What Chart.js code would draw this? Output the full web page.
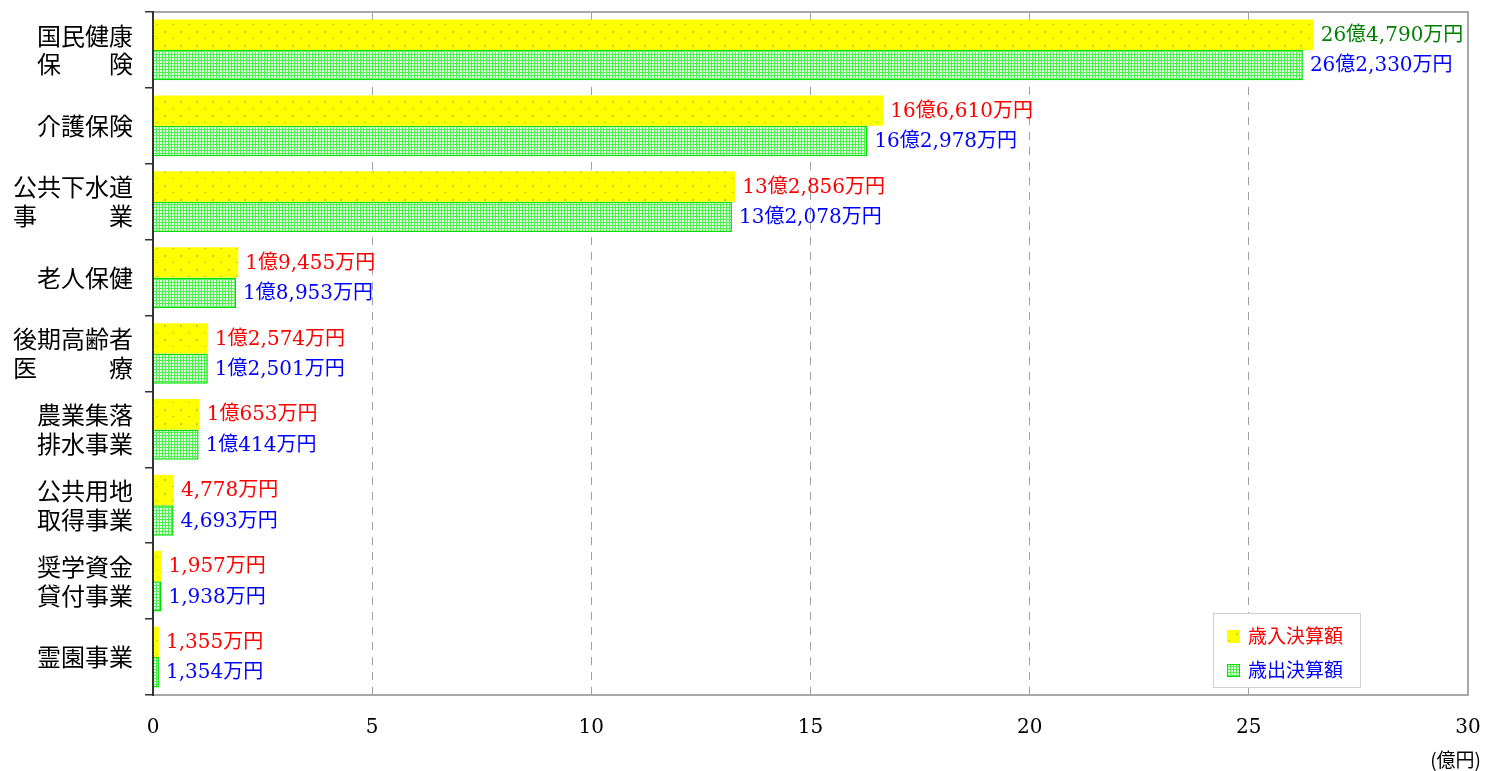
<!DOCTYPE html>
<html>
<head>
  <meta charset="UTF-8">
  <title>特別会計 決算額</title>
  <script src="https://cdn.jsdelivr.net/npm/chart.js"></script>
  <style>
    body { margin: 0; background: #fff; }
    #wrap { width: 1485px; height: 771px; position: relative; }
  </style>
</head>
<body>
  <div id="wrap"><canvas id="chart"></canvas></div>

  <script>
    const categories = [
      ["国民健康", "保　　険"],
      "介護保険",
      ["公共下水道", "事　　　業"],
      "老人保健",
      ["後期高齢者", "医　　　療"],
      ["農業集落", "排水事業"],
      ["公共用地", "取得事業"],
      ["奨学資金", "貸付事業"],
      "霊園事業"
    ];
    // 億円
    const revenue = [26.479, 16.661, 13.2856, 1.9455, 1.2574, 1.0653, 0.4778, 0.1957, 0.1355];
    const expenditure = [26.233, 16.2978, 13.2078, 1.8953, 1.2501, 1.0414, 0.4693, 0.1938, 0.1354];
    const revenueLabels = ["26億4,790万円", "16億6,610万円", "13億2,856万円", "1億9,455万円", "1億2,574万円", "1億653万円", "4,778万円", "1,957万円", "1,355万円"];
    const expenditureLabels = ["26億2,330万円", "16億2,978万円", "13億2,078万円", "1億8,953万円", "1億2,501万円", "1億414万円", "4,693万円", "1,938万円", "1,354万円"];
    const seriesNames = ["歳入決算額", "歳出決算額"];
    const xTicks = [0, 5, 10, 15, 20, 25, 30];

    const serif = "'DejaVu Serif', 'Noto Sans CJK JP', serif";
    const gothic = "'Noto Sans CJK JP', sans-serif";

    function yellowPattern() {
      const c = document.createElement("canvas");
      c.width = 16; c.height = 14;
      const g = c.getContext("2d");
      g.fillStyle = "#ffff00"; g.fillRect(0, 0, 16, 14);
      g.fillStyle = "#a8d830";
      g.fillRect(4, 3, 2, 2);
      g.fillRect(12, 10, 2, 1);
      return g.createPattern(c, "repeat");
    }
    function greenPattern() {
      const c = document.createElement("canvas");
      c.width = 3; c.height = 3;
      const g = c.getContext("2d");
      g.fillStyle = "#50f050"; g.fillRect(0, 0, 3, 3);
      g.fillStyle = "#e0ffe0"; g.fillRect(1, 1, 2, 2);
      return g.createPattern(c, "repeat");
    }

    // data labels next to the bars
    const barLabels = {
      id: "barLabels",
      afterDatasetsDraw(chart) {
        const ctx = chart.ctx;
        ctx.save();
        ctx.font = "20px " + serif;
        ctx.textBaseline = "middle";
        ctx.textAlign = "left";
        chart.data.datasets.forEach((ds, di) => {
          chart.getDatasetMeta(di).data.forEach((bar, i) => {
            let col = di === 0 ? "#ff0000" : "#0000ff";
            if (di === 0 && i === 0) col = "#008000";
            ctx.fillStyle = col;
            const txt = di === 0 ? revenueLabels[i] : expenditureLabels[i];
            ctx.fillText(txt, bar.x + 7, bar.y + 1);
          });
        });
        ctx.restore();
      }
    };

    // frame, legend box and unit label
    const extras = {
      id: "extras",
      beforeDatasetsDraw(chart) {
        const a = chart.chartArea, ctx = chart.ctx;
        ctx.save();
        ctx.strokeStyle = "#a8a8a8";
        ctx.lineWidth = 2;
        ctx.beginPath();
        ctx.moveTo(a.left, a.top); ctx.lineTo(a.right, a.top);
        ctx.lineTo(a.right, a.bottom); ctx.lineTo(a.left, a.bottom);
        ctx.stroke();
        ctx.restore();
      },
      afterDraw(chart) {
        const a = chart.chartArea, ctx = chart.ctx;
        ctx.save();
        ctx.strokeStyle = "#333";
        ctx.lineWidth = 2;
        ctx.beginPath();
        ctx.moveTo(a.left, a.top - 1); ctx.lineTo(a.left, a.bottom + 1);
        ctx.stroke();

        // legend
        const lx = 1213, ly = 613, lw = 147, lh = 74;
        ctx.fillStyle = "#fff";
        ctx.fillRect(lx, ly, lw, lh);
        ctx.strokeStyle = "#d0d0d0";
        ctx.lineWidth = 1;
        ctx.strokeRect(lx + 0.5, ly + 0.5, lw, lh);
        const fills = chart.data.datasets.map(d => d.backgroundColor);
        const cols = ["#ff0000", "#0000ff"];
        ctx.font = "19px " + gothic;
        ctx.textBaseline = "middle";
        [636, 670].forEach((y, i) => {
          ctx.fillStyle = fills[i];
          ctx.fillRect(lx + 14, y - 6, 13, 13);
          if (i === 1) { ctx.strokeStyle = "#00e000"; ctx.strokeRect(lx + 14.5, y - 5.5, 12, 12); }
          ctx.fillStyle = cols[i];
          ctx.fillText(seriesNames[i], lx + 35, y);
        });

        ctx.fillStyle = "#000";
        ctx.font = "19px " + gothic;
        ctx.textAlign = "right";
        ctx.fillText("(億円)", 1481, 760);
        ctx.restore();
      }
    };

    new Chart(document.getElementById("chart"), {
      type: "bar",
      data: {
        labels: categories,
        datasets: [
          {
            label: seriesNames[0],
            data: revenue,
            backgroundColor: yellowPattern(),
            borderWidth: 0,
            barPercentage: 1.0,
            categoryPercentage: 0.8
          },
          {
            label: seriesNames[1],
            data: expenditure,
            backgroundColor: greenPattern(),
            borderColor: "#00e000",
            borderWidth: 1.5,
            barPercentage: 1.0,
            categoryPercentage: 0.8
          }
        ]
      },
      options: {
        indexAxis: "y",
        responsive: true,
        maintainAspectRatio: false,
        animation: false,
        layout: { padding: { top: 12, right: 17, bottom: 0, left: 0 } },
        plugins: {
          legend: { display: false },
          tooltip: { enabled: false }
        },
        scales: {
          x: {
            min: 0,
            max: 30,
            afterBuildTicks(scale) { scale.ticks = xTicks.map(v => ({ value: v })); },
            afterFit(scale) { scale.height = 76; scale.paddingRight = 0; scale.paddingLeft = 0; },
            border: { display: false, dash: [8, 7] },
            grid: {
              color: ctx => ctx.tick.value === 0 || ctx.tick.value === 30 ? "rgba(0,0,0,0)" : "#a0a0a0",
              lineWidth: 1,
              drawTicks: false
            },
            ticks: {
              color: "#000",
              padding: 21,
              font: { size: 20, family: serif }
            }
          },
          y: {
            afterFit(scale) { scale.width = 153; scale.paddingTop = 0; scale.paddingBottom = 0; },
            border: { display: false },
            grid: {
              drawOnChartArea: false,
              color: "#333",
              tickLength: 8,
              lineWidth: 1.5
            },
            ticks: {
              color: "#000",
              padding: 12,
              font: { size: 24, family: gothic, lineHeight: 1.2 }
            }
          }
        }
      },
      plugins: [barLabels, extras]
    });
  </script>
</body>
</html>
